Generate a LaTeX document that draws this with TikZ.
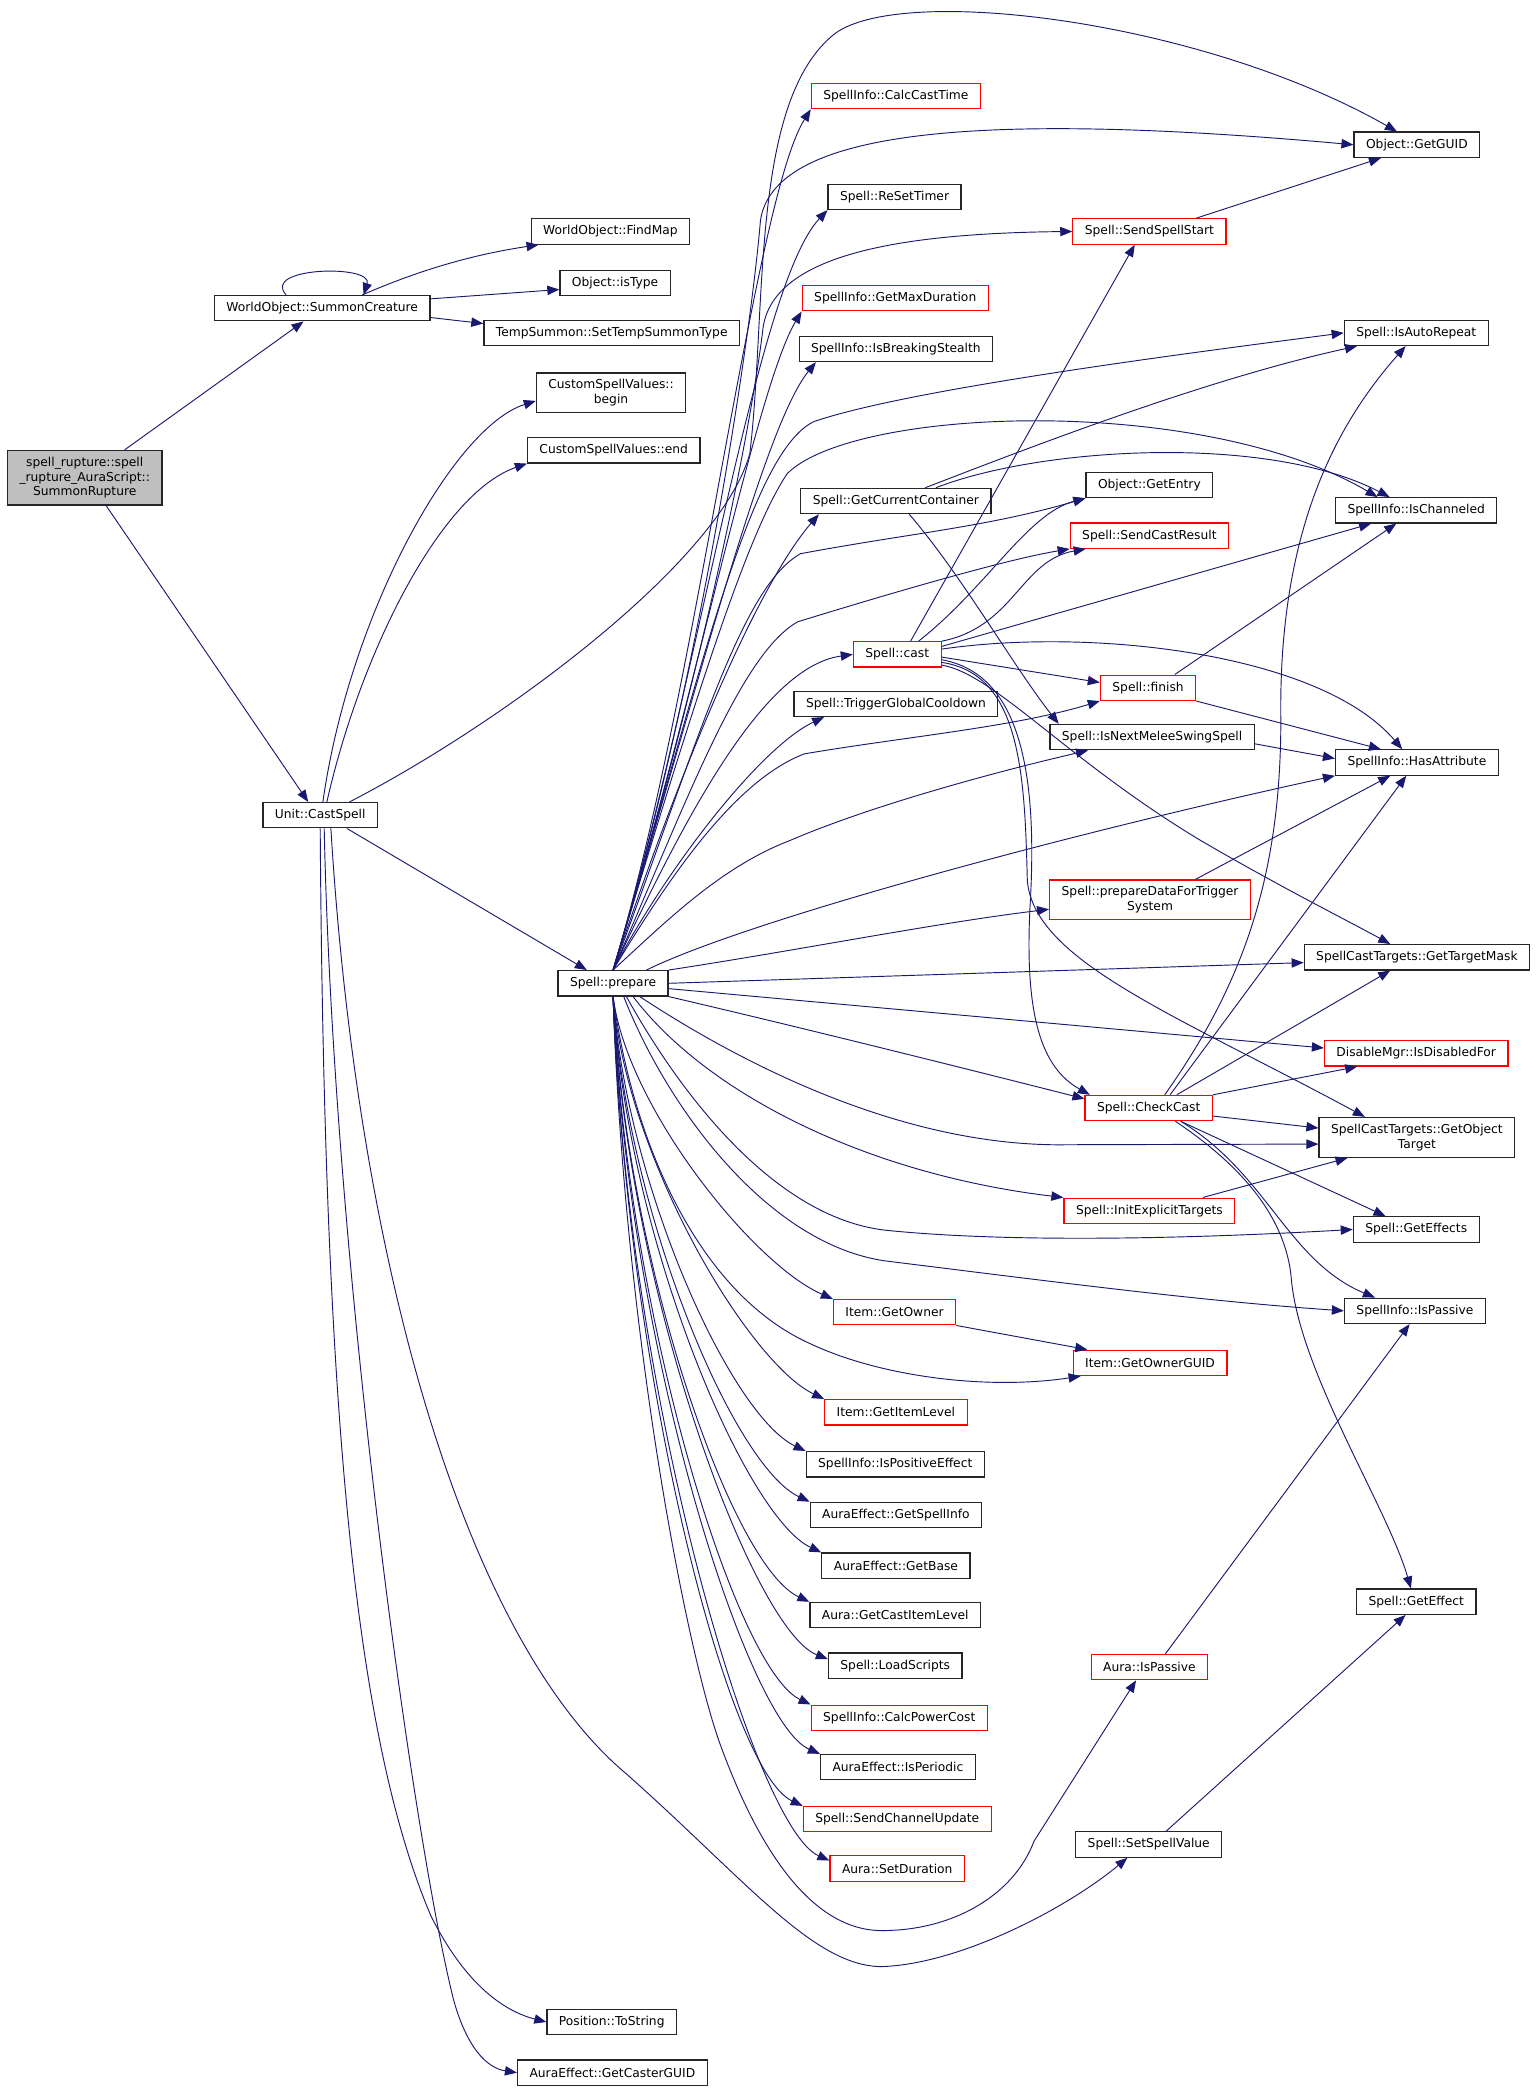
\documentclass[tikz,border=0pt]{standalone}
\usepackage{fontspec}
\setmainfont{DejaVu Sans}
\usetikzlibrary{arrows.meta}

\definecolor{edgeblue}{RGB}{25,25,112}
\definecolor{rootgray}{RGB}{191,191,191}

\tikzset{
  fn/.style={draw=black!85, line width=0.9pt, fill=white, inner xsep=9pt, inner ysep=5pt,
    minimum height=19pt, align=center, font=\fontsize{9.2}{11}\selectfont},
  fnred/.style={fn, draw=red},
  fnroot/.style={fn, fill=rootgray},
  call/.style={draw=edgeblue, line width=0.7pt, -{Triangle[length=9pt,width=7pt]}}
}

\begin{document}
\begin{tikzpicture}[x=1pt,y=-1pt]

\useasboundingbox (0,0) rectangle (1152,1568);

\node[fnroot] (rupture) at (63.5,358) {spell\_rupture::spell\\\_rupture\_AuraScript::\\SummonRupture};
\node[fn] (summon) at (241.5,231) {WorldObject::SummonCreature};
\node[fn] (findmap) at (457.5,173.5) {WorldObject::FindMap};
\node[fn] (istype) at (461,212) {Object::isType};
\node[fn] (settemp) at (458.5,249.5) {TempSummon::SetTempSummonType};
\node[fn] (cbegin) at (458,294.5) {CustomSpellValues::\\begin};
\node[fn] (cend) at (460,337.5) {CustomSpellValues::end};
\node[fn] (castspell) at (240,611) {Unit::CastSpell};
\node[fn] (prepare) at (459.5,737) {Spell::prepare};
\node[fn] (tostring) at (458.5,1515.5) {Position::ToString};
\node[fn] (castguid) at (459,1553.5) {AuraEffect::GetCasterGUID};

\node[fnred] (calccast) at (671.5,72) {SpellInfo::CalcCastTime};
\node[fn] (resettimer) at (670.5,147.5) {Spell::ReSetTimer};
\node[fnred] (maxdur) at (671,223.5) {SpellInfo::GetMaxDuration};
\node[fn] (breakstealth) at (671.5,261.5) {SpellInfo::IsBreakingStealth};
\node[fn] (curcont) at (671.5,375.5) {Spell::GetCurrentContainer};
\node[fnred] (cast) at (672.5,490.5) {Spell::cast};
\node[fn] (triggergcd) at (671.5,527.5) {Spell::TriggerGlobalCooldown};
\node[fnred] (getowner) at (670.5,983.5) {Item::GetOwner};
\node[fnred] (itemlevel) at (671.5,1058.5) {Item::GetItemLevel};
\node[fn] (poseffect) at (671,1097.5) {SpellInfo::IsPositiveEffect};
\node[fn] (getspellinfo) at (671.5,1135.5) {AuraEffect::GetSpellInfo};
\node[fn] (getbase) at (671.5,1173.5) {AuraEffect::GetBase};
\node[fn] (castitemlevel) at (671,1210.5) {Aura::GetCastItemLevel};
\node[fn] (loadscripts) at (671,1248.5) {Spell::LoadScripts};
\node[fnred] (powercost) at (674,1287.5) {SpellInfo::CalcPowerCost};
\node[fn] (isperiodic) at (673,1324.5) {AuraEffect::IsPeriodic};
\node[fnred] (chanupdate) at (672.5,1363.5) {Spell::SendChannelUpdate};
\node[fnred] (setduration) at (672.5,1400.5) {Aura::SetDuration};

\node[fnred] (sendstart) at (861.5,173.5) {Spell::SendSpellStart};
\node[fn] (getentry) at (861.5,363.5) {Object::GetEntry};
\node[fnred] (sendresult) at (861.5,401.5) {Spell::SendCastResult};
\node[fnred] (finish) at (860.5,515.5) {Spell::finish};
\node[fn] (nextmelee) at (863.5,552.5) {Spell::IsNextMeleeSwingSpell};
\node[fnred] (preptrigger) at (862,674.5) {Spell::prepareDataForTrigger\\System};
\node[fnred] (checkcast) at (861,830.5) {Spell::CheckCast};
\node[fnred] (initexpl) at (861.5,907.5) {Spell::InitExplicitTargets};
\node[fnred] (ownerguid) at (862,1021.5) {Item::GetOwnerGUID};
\node[fnred] (aurapassive) at (861.5,1249.5) {Aura::IsPassive};
\node[fn] (setspellvalue) at (861,1382.5) {Spell::SetSpellValue};

\node[fn] (getguid) at (1062,108.5) {Object::GetGUID};
\node[fn] (autorepeat) at (1061.5,249.5) {Spell::IsAutoRepeat};
\node[fn] (channeled) at (1061.5,382.5) {SpellInfo::IsChanneled};
\node[fn] (hasattr) at (1062,571.5) {SpellInfo::HasAttribute};
\node[fn] (targetmask) at (1062,717.5) {SpellCastTargets::GetTargetMask};
\node[fnred] (disabled) at (1061.5,789.5) {DisableMgr::IsDisabledFor};
\node[fn] (objtarget) at (1062,852.5) {SpellCastTargets::GetObject\\Target};
\node[fn] (geteffects) at (1061.5,921.5) {Spell::GetEffects};
\node[fn] (sipassive) at (1060.5,982.5) {SpellInfo::IsPassive};
\node[fn] (geteffect) at (1061.5,1200.5) {Spell::GetEffect};

% root and summon
\draw[call] ([xshift=30pt]rupture.north) -- ([xshift=-14pt]summon.south);
\draw[call] ([xshift=16pt]rupture.south) -- ([xshift=-9pt]castspell.north);
\draw[call] ([xshift=-27pt]summon.north) .. controls (195,200) and (280,198) .. ([xshift=31pt]summon.north);
\draw[call] ([xshift=30pt]summon.north) .. controls (320,200) and (360,190) .. ([xshift=6pt]findmap.south west);
\draw[call] ([yshift=7pt]summon.east) -- ([yshift=-5pt]istype.west);
\draw[call] ([yshift=-7pt]summon.east) -- ([yshift=7pt]settemp.west);

% Unit::CastSpell
\draw[call] ([xshift=2pt]castspell.north) .. controls (262,460) and (340,320) .. ([yshift=-6pt]cbegin.west);
\draw[call] ([xshift=5pt]castspell.north) .. controls (270,490) and (330,370) .. (cend.south west);
\draw[call] ([xshift=22pt]castspell.north) .. controls (380,540) and (540,420) .. (562,340)
  .. controls (575,230) and (562,75) .. (626,25) .. controls (677,-12) and (900,15) .. ([xshift=-15pt]getguid.north);
\draw[call] ([xshift=20pt]castspell.south) -- ([xshift=22pt]prepare.north west);
\draw[call] (castspell.south) .. controls (243,1050) and (265,1300) .. (323,1436)
  .. controls (350,1490) and (380,1508) .. (tostring.west);
\draw[call] ([xshift=3pt]castspell.south) .. controls (250,950) and (310,1380) .. (340,1499)
  .. controls (350,1535) and (365,1550) .. (castguid.west);
\draw[call] ([xshift=8pt]castspell.south) .. controls (268,950) and (350,1230) .. (470,1330)
  .. controls (560,1410) and (610,1474) .. (661,1474) .. controls (720,1472) and (800,1430) .. ([xshift=-16pt]setspellvalue.south);

% Spell::prepare, upwards
\draw[call] (prepare.north) .. controls (522,520) and (565,150) .. (calccast.south west);
\draw[call] (prepare.north) .. controls (522,520) and (562,260) .. (570,165)
  .. controls (580,100) and (720,82) .. (getguid.west);
\draw[call] (prepare.north) .. controls (522,520) and (566,215) .. (resettimer.south west);
\draw[call] (prepare.north) .. controls (522,520) and (562,330) .. (572,245)
  .. controls (580,195) and (660,175) .. (sendstart.west);
\draw[call] (prepare.north) .. controls (522,520) and (567,290) .. (maxdur.south west);
\draw[call] (prepare.north) .. controls (522,520) and (572,320) .. ([xshift=13pt]breakstealth.south west);
\draw[call] (prepare.north) .. controls (522,520) and (560,340) .. (610,316)
  .. controls (680,292) and (880,266) .. (autorepeat.west);
\draw[call] (prepare.north) .. controls (522,520) and (560,400) .. (590,355)
  .. controls (640,305) and (900,295) .. ([xshift=-29pt]channeled.north);
\draw[call] (prepare.north) .. controls (522,540) and (575,430) .. ([xshift=14pt]curcont.south west);
\draw[call] (prepare.north) .. controls (522,560) and (555,440) .. (600,415)
  .. controls (680,400) and (740,395) .. (getentry.south west);
\draw[call] (prepare.north) .. controls (515,600) and (555,490) .. (598,466)
  .. controls (650,450) and (750,420) .. (sendresult.south west);
\draw[call] (prepare.north) .. controls (510,620) and (570,500) .. (cast.west);
\draw[call] (prepare.north) .. controls (500,650) and (570,560) .. ([xshift=23pt]triggergcd.south west);
\draw[call] (prepare.north) .. controls (500,660) and (550,585) .. (603,565)
  .. controls (680,552) and (760,545) .. (finish.south west);
\draw[call] (prepare.north) .. controls (500,690) and (540,650) .. (592,630)
  .. controls (650,605) and (740,580) .. ([xshift=29pt]nextmelee.south west);
\draw[call] ([xshift=25pt]prepare.north) .. controls (560,690) and (800,625) .. (hasattr.south west);

% Spell::prepare, right
\draw[call] (prepare.north east) .. controls (600,712) and (700,692) .. ([yshift=-7pt]preptrigger.west);
\draw[call] (prepare.east) -- ([yshift=-4pt]targetmask.west);
\draw[call] ([yshift=-4pt]prepare.east) -- ([yshift=4pt]disabled.west);
\draw[call] (prepare.south east) .. controls (600,770) and (720,800) .. ([yshift=-3pt]checkcast.north west);
\draw[call] ([xshift=20pt]prepare.south) .. controls (560,800) and (680,860) .. (800,858) -- ([yshift=-5pt]objtarget.west);
\draw[call] ([xshift=15pt]prepare.south) .. controls (530,820) and (650,880) .. (initexpl.north west);
\draw[call] ([xshift=10pt]prepare.south) .. controls (510,820) and (580,912) .. (663,922)
  .. controls (760,932) and (900,928) .. (geteffects.west);
\draw[call] ([xshift=8pt]prepare.south) .. controls (500,830) and (575,932) .. (663,945)
  .. controls (800,962) and (900,975) .. (sipassive.west);

% Spell::prepare, downwards
\draw[call] (prepare.south) .. controls (470,830) and (565,948) .. (getowner.north west);
\draw[call] (prepare.south) .. controls (475,860) and (525,970) .. (607,1007)
  .. controls (660,1032) and (740,1042) .. ([xshift=6pt]ownerguid.south west);
\draw[call] (prepare.south) .. controls (470,870) and (562,1022) .. (itemlevel.north west);
\draw[call] (prepare.south) .. controls (470,890) and (548,1061) .. (poseffect.north west);
\draw[call] (prepare.south) .. controls (470,910) and (550,1099) .. (getspellinfo.north west);
\draw[call] (prepare.south) .. controls (470,930) and (559,1137) .. (getbase.north west);
\draw[call] (prepare.south) .. controls (470,950) and (549,1174) .. (castitemlevel.north west);
\draw[call] (prepare.south) .. controls (470,970) and (565,1222) .. ([yshift=5pt]loadscripts.west);
\draw[call] (prepare.south) .. controls (470,990) and (552,1251) .. (powercost.north west);
\draw[call] (prepare.south) .. controls (470,1010) and (560,1291) .. (isperiodic.north west);
\draw[call] (prepare.south) .. controls (470,1030) and (545,1327) .. (chanupdate.north west);
\draw[call] (prepare.south) .. controls (470,1050) and (566,1370) .. ([yshift=6pt]setduration.west);
\draw[call] (prepare.south) .. controls (468,1000) and (515,1240) .. (540,1308)
  .. controls (570,1390) and (610,1447) .. (661,1447) .. controls (715,1447) and (760,1420) .. (775,1380)
  -- ([xshift=-10pt]aurapassive.south);

% Spell::GetCurrentContainer
\draw[call] ([xshift=22pt]curcont.north) .. controls (760,340) and (900,285) .. ([xshift=10pt]autorepeat.south west);
\draw[call] ([xshift=30pt]curcont.north) .. controls (780,335) and (950,325) .. ([xshift=-20pt]channeled.north);
\draw[call] ([xshift=10pt]curcont.south) .. controls (720,430) and (760,500) .. ([xshift=7pt]nextmelee.north west);

% Spell::cast
\draw[call] ([xshift=10pt]cast.north) -- ([xshift=-11pt]sendstart.south);
\draw[call] ([xshift=16pt]cast.north) .. controls (740,440) and (770,385) .. (getentry.south west);
\draw[call] (cast.north east) .. controls (760,470) and (765,420) .. ([xshift=12pt]sendresult.south west);
\draw[call] ([yshift=6pt]cast.east) -- ([xshift=27pt]channeled.south west);
\draw[call] ([yshift=4pt]cast.east) .. controls (820,470) and (990,490) .. ([xshift=-11pt]hasattr.north);
\draw[call] ([yshift=-2pt]cast.east) -- ([yshift=4pt]finish.west);
\draw[call] ([yshift=-4pt]cast.east) .. controls (765,505) and (778,580) .. (772,680)
  .. controls (768,760) and (780,800) .. ([xshift=4pt]checkcast.north west);
\draw[call] ([yshift=-6pt]cast.east) .. controls (765,505) and (768,580) .. (770,660)
  .. controls (775,720) and (880,760) .. ([xshift=-39pt]objtarget.north);
\draw[call] ([yshift=-8pt]cast.east) .. controls (745,505) and (800,570) .. (900,630)
  .. controls (960,665) and (1010,690) .. ([xshift=-20pt]targetmask.north);

% Spell::CheckCast
\draw[call] ([xshift=12pt]checkcast.north) .. controls (930,740) and (960,660) .. (960,540)
  .. controls (958,400) and (1000,320) .. ([xshift=-8pt]autorepeat.south);
\draw[call] ([xshift=16pt]checkcast.north) -- ([xshift=-8pt]hasattr.south);
\draw[call] ([xshift=21pt]checkcast.north) -- ([xshift=-20pt]targetmask.south);
\draw[call] (checkcast.north east) -- ([xshift=25pt]disabled.south west);
\draw[call] ([yshift=-6pt]checkcast.east) -- ([yshift=7pt]objtarget.west);
\draw[call] ([xshift=24pt]checkcast.south) -- ([xshift=-23pt]geteffects.north);
\draw[call] ([xshift=24pt]checkcast.south) .. controls (950,880) and (965,945) .. ([xshift=-30pt]sipassive.north);
\draw[call] ([xshift=20pt]checkcast.south) .. controls (940,880) and (965,920) .. (968,960)
  .. controls (975,1030) and (1040,1130) .. ([xshift=-4pt]geteffect.north);

% the others
\draw[call] ([xshift=35pt]sendstart.north) -- ([xshift=-27pt]getguid.south);
\draw[call] ([xshift=20pt]finish.north) -- ([xshift=-15pt]channeled.south);
\draw[call] (finish.south east) -- ([xshift=-27pt]hasattr.north);
\draw[call] ([yshift=-5pt]nextmelee.east) -- ([yshift=3pt]hasattr.west);
\draw[call] ([xshift=34pt]preptrigger.north) -- ([xshift=-20pt]hasattr.south);
\draw[call] ([xshift=40pt]initexpl.north) -- ([xshift=-52pt]objtarget.south);
\draw[call] (getowner.south east) -- ([xshift=11pt]ownerguid.north west);
\draw[call] ([xshift=12pt]aurapassive.north) -- ([xshift=-4pt]sipassive.south);
\draw[call] ([xshift=13pt]setspellvalue.north) -- ([xshift=-8pt]geteffect.south);

\end{tikzpicture}
\end{document}
